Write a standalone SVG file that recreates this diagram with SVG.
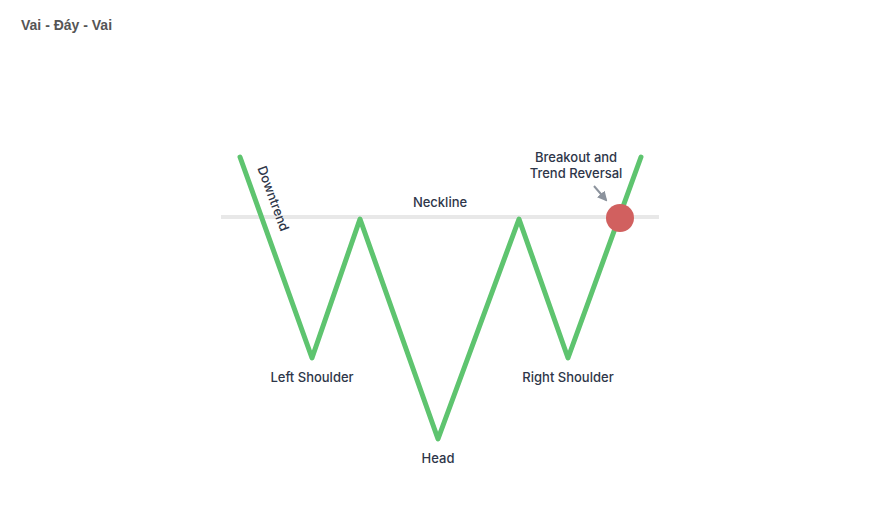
<svg xmlns="http://www.w3.org/2000/svg" width="871" height="507" viewBox="0 0 871 507">
<defs>
<style>
.lbl{font-family:"Inter","Liberation Sans",sans-serif;font-size:13px;fill:#2e3649;font-weight:500}
.neck{stroke:#e8e8e8;stroke-width:4;fill:none}
.price{stroke:#5ec46f;stroke-width:5;fill:none;stroke-linejoin:round;stroke-linecap:round}
</style>
<marker id="ah" viewBox="0 0 10 10" refX="8" refY="5" markerWidth="5" markerHeight="5" orient="auto">
<path d="M0,0 L10,5 L0,10 z" fill="#8c939d"/>
</marker>
</defs>
<rect width="871" height="507" fill="#ffffff"/>
<text x="21" y="30" font-family="Liberation Sans, Arial, sans-serif" font-size="14" font-weight="bold" fill="#555555">Vai - Đáy - Vai</text>
<g id="connectors">
<line class="neck" x1="221" y1="217" x2="659" y2="217"/>
<polyline class="price" points="240,157 312,358 360,219 438,439 519,219 568,358 641,157"/>
<line x1="594" y1="186" x2="606" y2="200" stroke="#8c939d" stroke-width="2" marker-end="url(#ah)"/>
</g>
<g id="breakout">
<circle cx="620" cy="218" r="14" fill="#d1605f"/>
<text class="lbl" x="576" y="162" text-anchor="middle">Breakout and</text>
<text class="lbl" x="576" y="178" text-anchor="middle">Trend Reversal</text>
</g>
<g id="neckline"><text class="lbl" x="440" y="207" text-anchor="middle">Neckline</text></g>
<g id="downtrend"><text class="lbl" x="0" y="0" text-anchor="middle" transform="translate(269,200) rotate(70)">Downtrend</text></g>
<g id="left-shoulder"><text class="lbl" x="312" y="382" text-anchor="middle">Left Shoulder</text></g>
<g id="head"><text class="lbl" x="438" y="463" text-anchor="middle">Head</text></g>
<g id="right-shoulder"><text class="lbl" x="568" y="382" text-anchor="middle">Right Shoulder</text></g>
</svg>
